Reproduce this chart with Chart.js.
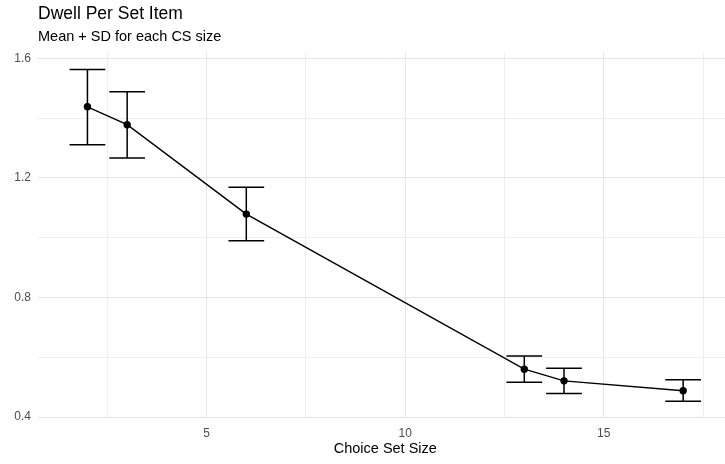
<!DOCTYPE html>
<html>
<head>
<meta charset="utf-8">
<script src="https://cdn.jsdelivr.net/npm/chart.js@4/dist/chart.umd.min.js"></script>
<style>
  html, body { margin: 0; padding: 0; background: #ffffff; overflow: hidden; width: 725px; height: 464px; }
  #wrap { width: 737px; height: 464px; }
</style>
</head>
<body>
<div id="wrap"><canvas id="c" width="737" height="464"></canvas></div>
<script>
// ---- data ----
const choiceSetSizes = [2, 3, 6, 13, 14, 17];
const meanDwell      = [1.438, 1.378, 1.079, 0.560, 0.521, 0.488];
const upperDwell     = [1.563, 1.488, 1.169, 0.604, 0.563, 0.525];
const lowerDwell     = [1.311, 1.267, 0.990, 0.516, 0.479, 0.453];
const xTickValues    = [2.5, 5, 7.5, 10, 12.5, 15, 17.5];
const xTickLabels    = ['5', '10', '15'];
const yTickValues    = [0.4, 0.6, 0.8, 1.0, 1.2, 1.4, 1.6];
const yTickLabels    = ['0.4', '0.8', '1.2', '1.6'];
const titleText      = 'Dwell Per Set Item';
const subtitleText   = 'Mean + SD for each CS size';
const xTitleText     = 'Choice Set Size';

const FONT = '"Liberation Sans", Arial, Helvetica, sans-serif';
const errorBarHalfWidth = 0.45; // in x data units

const points = choiceSetSizes.map((x, i) => ({ x: x, y: meanDwell[i] }));

const isMajorX = v => xTickLabels.includes(String(v));
const isMajorY = v => yTickLabels.includes(v.toFixed(1));

const errorBarPlugin = {
  id: 'errorBars',
  beforeDatasetsDraw(chart) {
    const { ctx, scales: { x, y } } = chart;
    ctx.save();
    ctx.strokeStyle = '#000000';
    ctx.lineWidth = 1.5;
    ctx.lineCap = 'butt';
    choiceSetSizes.forEach((cx, i) => {
      const px = x.getPixelForValue(cx);
      const pl = x.getPixelForValue(cx - errorBarHalfWidth);
      const pr = x.getPixelForValue(cx + errorBarHalfWidth);
      const pt = y.getPixelForValue(upperDwell[i]);
      const pb = y.getPixelForValue(lowerDwell[i]);
      ctx.beginPath();
      ctx.moveTo(px, pt); ctx.lineTo(px, pb);
      ctx.moveTo(pl, pt); ctx.lineTo(pr, pt);
      ctx.moveTo(pl, pb); ctx.lineTo(pr, pb);
      ctx.stroke();
    });
    ctx.restore();
  }
};

new Chart(document.getElementById('c'), {
  type: 'scatter',
  data: {
    datasets: [{
      data: points,
      showLine: true,
      borderColor: '#000000',
      backgroundColor: '#000000',
      borderWidth: 1.4,
      pointRadius: 3,
      pointHoverRadius: 3,
      tension: 0
    }]
  },
  options: {
    responsive: false,
    animation: false,
    layout: { padding: { left: 0, right: 0, top: 0, bottom: 0 } },
    plugins: {
      legend: { display: false },
      tooltip: { enabled: false },
      title: {
        display: true,
        text: titleText,
        align: 'start',
        fullSize: false,
        color: '#000000',
        font: { family: FONT, size: 17.5, weight: 'normal', lineHeight: 1.2 },
        padding: { top: 3.5, bottom: 0 }
      },
      subtitle: {
        display: true,
        text: subtitleText,
        align: 'start',
        fullSize: false,
        color: '#000000',
        font: { family: FONT, size: 14.5, weight: 'normal', lineHeight: 1.2 },
        padding: { top: 4, bottom: 6.5 }
      }
    },
    scales: {
      x: {
        type: 'linear',
        min: 0.755,
        max: 18.245,
        afterBuildTicks: s => { s.ticks = xTickValues.map(v => ({ value: v })); },
        afterFit: s => { s.height = 47; },
        border: { display: false },
        grid: {
          drawTicks: false,
          color: ctx => isMajorX(ctx.tick.value) ? '#e6e6e6' : '#eeeeee',
          lineWidth: 1
        },
        ticks: {
          autoSkip: false,
          maxRotation: 0,
          padding: 9,
          color: '#4d4d4d',
          font: { family: FONT, size: 12 },
          callback: v => isMajorX(v) ? String(v) : ''
        },
        title: {
          display: true,
          text: xTitleText,
          color: '#000000',
          font: { family: FONT, size: 14.5 },
          padding: { top: 0, bottom: 6.5 }
        }
      },
      y: {
        type: 'linear',
        min: 0.4,
        max: 1.62,
        afterBuildTicks: s => { s.ticks = yTickValues.map(v => ({ value: v })); },
        afterFit: s => { s.width = 38; },
        border: { display: false },
        grid: {
          drawTicks: false,
          color: ctx => isMajorY(ctx.tick.value) ? '#e6e6e6' : '#eeeeee',
          lineWidth: 1
        },
        ticks: {
          autoSkip: false,
          padding: 7,
          color: '#4d4d4d',
          font: { family: FONT, size: 12 },
          callback: v => isMajorY(v) ? v.toFixed(1) : ''
        }
      }
    }
  },
  plugins: [errorBarPlugin]
});
</script>
</body>
</html>
